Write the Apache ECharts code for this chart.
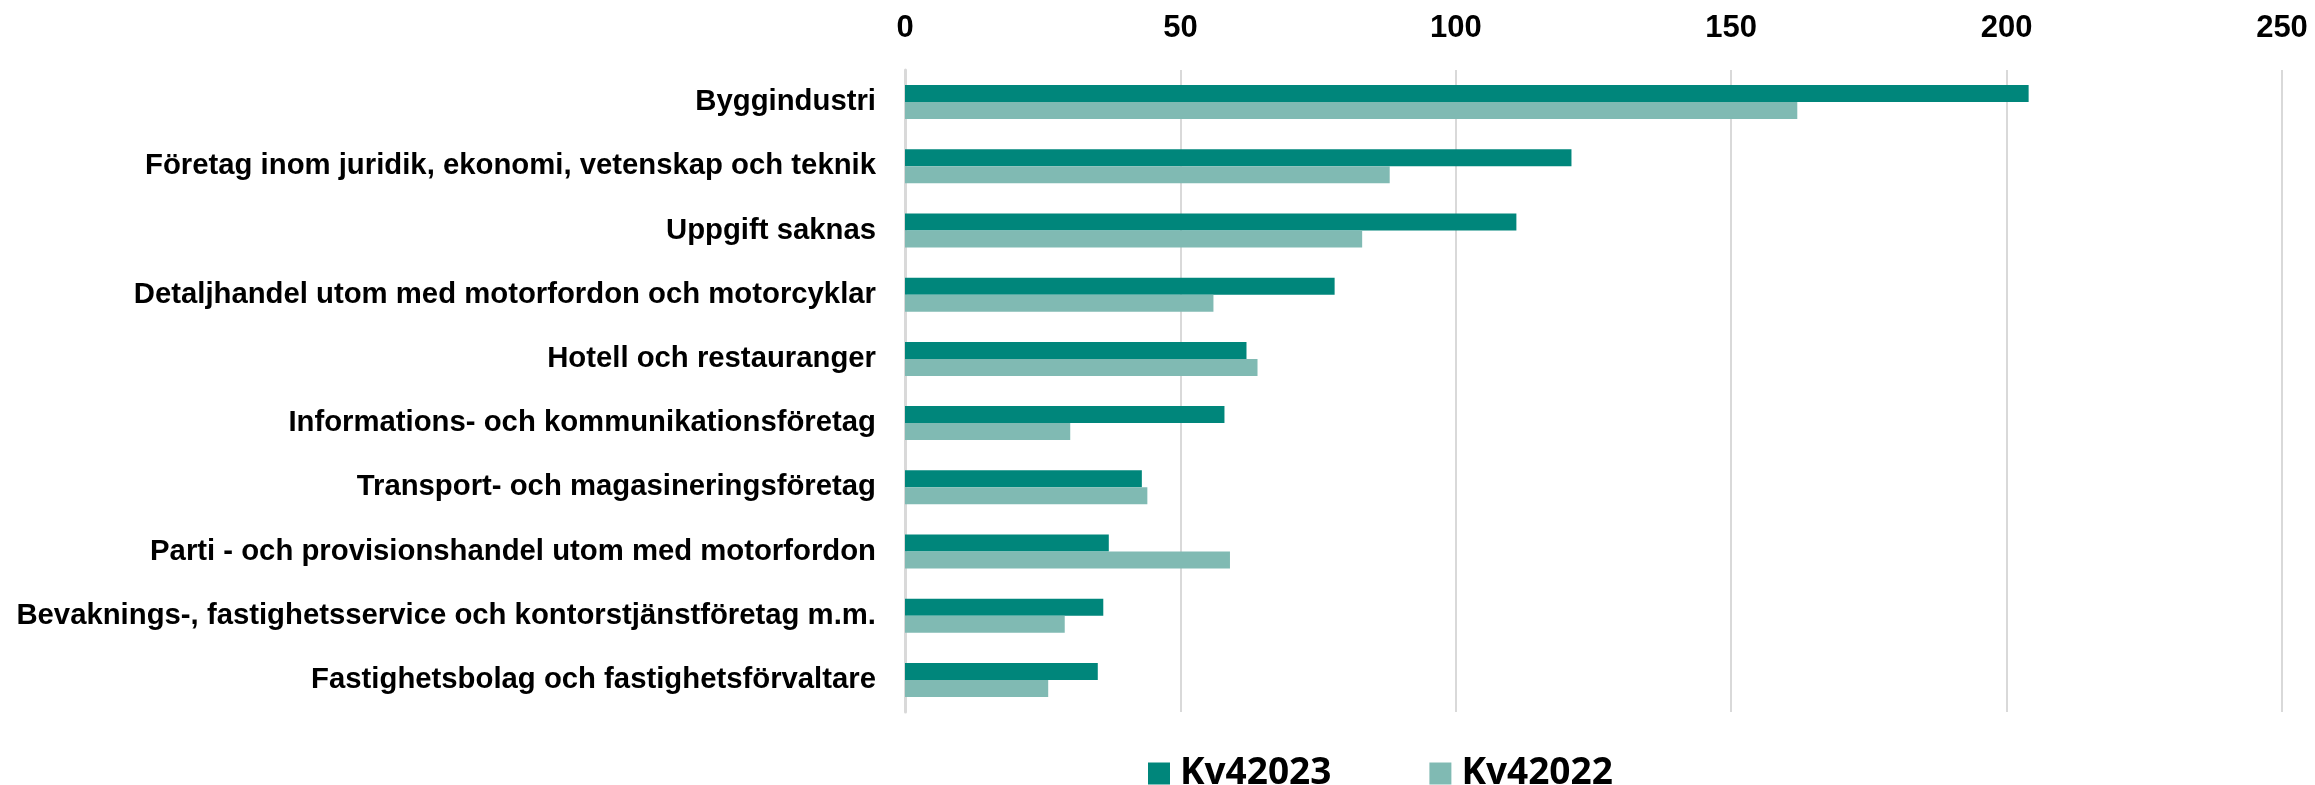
<!DOCTYPE html>
<html>
<head>
<meta charset="utf-8">
<script src="https://cdn.jsdelivr.net/npm/echarts@6/dist/echarts.min.js"></script>
<style>
  html, body { margin: 0; padding: 0; background: #ffffff; }
  #chart { width: 2315px; height: 785px; }
</style>
</head>
<body>
<div id="chart"></div>
<script>
const categories = [
  'Byggindustri',
  'Företag inom juridik, ekonomi, vetenskap och teknik',
  'Uppgift saknas',
  'Detaljhandel utom med motorfordon och motorcyklar',
  'Hotell och restauranger',
  'Informations- och kommunikationsföretag',
  'Transport- och magasineringsföretag',
  'Parti - och provisionshandel utom med motorfordon',
  'Bevaknings-, fastighetsservice och kontorstjänstföretag m.m.',
  'Fastighetsbolag och fastighetsförvaltare'
];
const seriesNames = ['Kv42023', 'Kv42022'];
const valuesKv42023 = [204, 121, 111, 78, 62, 58, 43, 37, 36, 35];
const valuesKv42022 = [162, 88, 83, 56, 64, 30, 44, 59, 29, 26];
const xTicks = { min: 0, max: 250, interval: 50 };

const chart = echarts.init(document.getElementById('chart'), null, { renderer: 'canvas' });
const labelFont = '"Liberation Sans", Arial, sans-serif';
chart.setOption({
  animation: false,
  backgroundColor: '#ffffff',
  grid: { left: 905, right: 33, top: 70, bottom: 73, containLabel: false },
  legend: {
    data: seriesNames,
    left: 1143,
    top: 750,
    itemWidth: 22,
    itemHeight: 22,
    itemGap: 98,
    icon: 'rect',
    textStyle: {
      fontFamily: '"Open Sans", sans-serif',
      fontWeight: 'bold',
      fontSize: 37,
      color: '#000000',
      padding: [0, 0, 0, 5]
    }
  },
  xAxis: {
    type: 'value',
    position: 'top',
    min: xTicks.min,
    max: xTicks.max,
    interval: xTicks.interval,
    axisLine: { show: false },
    axisTick: { show: false },
    splitLine: { show: true, lineStyle: { color: '#d9d9d9', width: 2 } },
    axisLabel: {
      fontFamily: labelFont,
      fontWeight: 'bold',
      fontSize: 31,
      color: '#000000',
      margin: 26
    }
  },
  yAxis: {
    type: 'category',
    inverse: true,
    data: categories,
    axisLine: { show: true, lineStyle: { color: '#d9d9d9', width: 3 } },
    axisTick: { show: false },
    axisLabel: {
      fontFamily: labelFont,
      fontWeight: 'bold',
      fontSize: 29.3,
      color: '#000000',
      margin: 29
    }
  },
  series: [
    {
      name: seriesNames[0],
      type: 'bar',
      data: valuesKv42023,
      barWidth: 17,
      barGap: '0%',
      itemStyle: { color: '#00867B' }
    },
    {
      name: seriesNames[1],
      type: 'bar',
      data: valuesKv42022,
      barWidth: 17,
      barGap: '0%',
      itemStyle: { color: '#80BAB3' }
    }
  ]
});
</script>
</body>
</html>
